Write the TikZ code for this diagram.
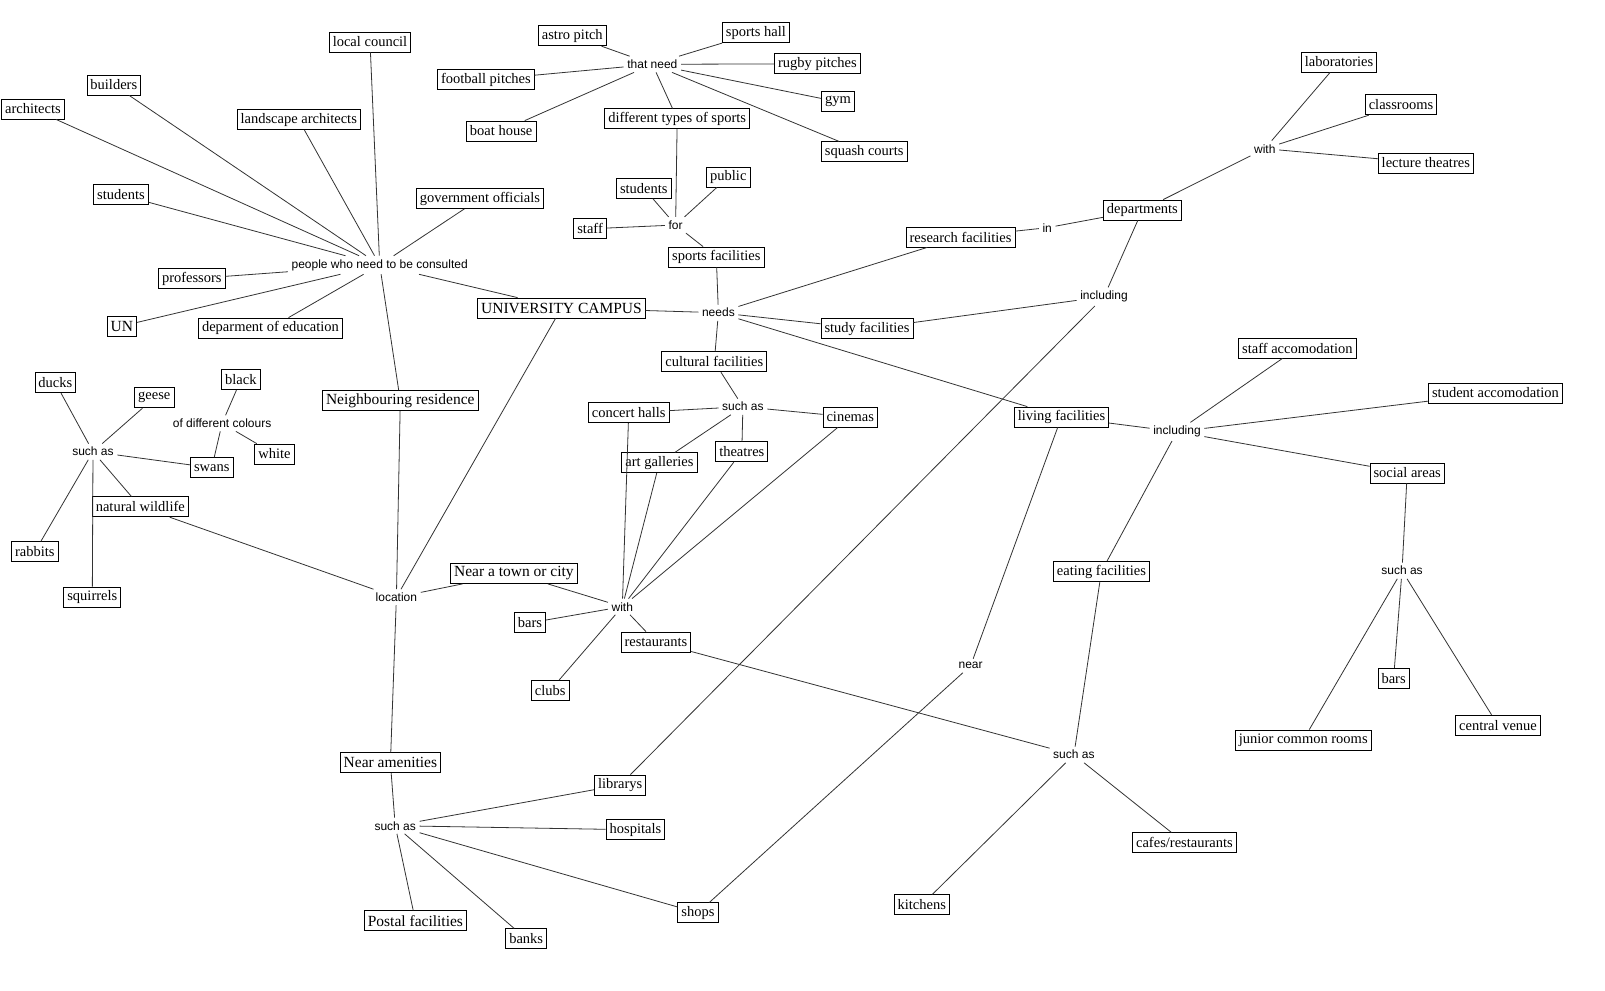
\documentclass[tikz,border=0pt]{standalone}
\usepackage{fontspec}
\setmainfont{Liberation Serif}
\newfontfamily\lsans{Liberation Sans}
\begin{document}
\begin{tikzpicture}[x=1pt,y=-1pt,
  box/.style={draw=black, line width=0.8pt, fill=white, font=\fontsize{14.5}{16}\selectfont, inner xsep=3.5pt, inner ysep=2.5pt, minimum height=20pt},
  bigbox/.style={box, font=\fontsize{15.5}{17}\selectfont},
  lnk/.style={font=\lsans\fontsize{12}{14}\selectfont, inner sep=3.5pt},
  conn/.style={draw=black!80, line width=0.8pt}]
\useasboundingbox[fill=white] (0,0) rectangle (1605,990);
% consulted
\node[box] (lc) at (370,42) {local council};
\node[box] (bld) at (113.8,85) {builders};
\node[box] (arch) at (32.9,109) {architects};
\node[box] (larch) at (298.7,119.8) {landscape architects};
\node[box] (stuL) at (121,194.8) {students};
\node[box] (gov) at (480,198.5) {government officials};
\node[lnk] (ppl) at (379.7,265) {people who need to be consulted};
\node[box] (prof) at (191.8,278.8) {professors};
\node[bigbox] (un) at (121.9,326) {UN};
\node[box] (edu) at (270.5,328) {deparment of education};
\node[bigbox] (campus) at (561.5,308) {UNIVERSITY CAMPUS};
\node[bigbox] (nres) at (400.3,400.8) {Neighbouring residence};
% location
\node[lnk] (loc) at (396.4,597.3) {location};
\node[bigbox] (ntown) at (513.9,573.5) {Near a town or city};
\node[box] (barsL) at (530,622.8) {bars};
\node[lnk] (with2) at (622.3,606.7) {with};
\node[box] (rest) at (655.9,642) {restaurants};
\node[box] (clubs) at (550.2,690.4) {clubs};
% cultural
\node[box] (cult) at (714.3,361.8) {cultural facilities};
\node[lnk] (suchC) at (742.9,406.7) {such as};
\node[box] (conc) at (628.7,412.8) {concert halls};
\node[box] (cin) at (850.3,417) {cinemas};
\node[box] (thea) at (741.8,451.8) {theatres};
\node[box] (art) at (659.4,462.8) {art galleries};
% amenities
\node[bigbox] (amen) at (390.4,762.8) {Near amenities};
\node[lnk] (suchA) at (395.2,825.7) {such as};
\node[box] (lib) at (620.2,785) {librarys};
\node[box] (hosp) at (635.4,829.8) {hospitals};
\node[bigbox] (post) at (415.4,920.7) {Postal facilities};
\node[box] (banks) at (526.2,938.8) {banks};
\node[box] (shops) at (697.9,912.8) {shops};
% wildlife
\node[box] (wild) at (140.3,506.8) {natural wildlife};
\node[lnk] (suchW) at (93,451.7) {such as};
\node[box] (ducks) at (55.4,382.8) {ducks};
\node[box] (geese) at (154.3,397.8) {geese};
\node[box] (black) at (240.9,379.8) {black};
\node[lnk] (diffc) at (222.1,423.3) {of different colours};
\node[box] (white) at (274.5,454) {white};
\node[box] (swans) at (211.8,467.8) {swans};
\node[box] (rabbits) at (34.8,551.8) {rabbits};
\node[box] (squir) at (92.3,597) {squirrels};
% sports
\node[box] (astro) at (572.3,35.8) {astro pitch};
\node[box] (shall) at (755.9,32.8) {sports hall};
\node[lnk] (thatneed) at (652.4,64.3) {that need};
\node[box] (rugby) at (817.4,63.8) {rugby pitches};
\node[box] (gym) at (837.9,101.8) {gym};
\node[box] (football) at (485.9,79.7) {football pitches};
\node[box] (boat) at (501.2,131) {boat house};
\node[box] (dts) at (677.2,118.8) {different types of sports};
\node[box] (squash) at (864.2,151.8) {squash courts};
\node[box] (stuS) at (643.8,188.2) {students};
\node[box] (public) at (728.3,177) {public};
\node[box] (staff) at (590.1,228.8) {staff};
\node[lnk] (tfor) at (675.6,225) {for};
\node[box] (sportsf) at (716.3,257) {sports facilities};
% research / study
\node[box] (research) at (960.5,237) {research facilities};
\node[lnk] (tin) at (1047.2,227.7) {in};
\node[lnk] (needs) at (718.4,312.7) {needs};
\node[box] (study) at (867,328.8) {study facilities};
\node[box] (labs) at (1339,62) {laboratories};
\node[box] (classr) at (1401,104.8) {classrooms};
\node[lnk] (with1) at (1264.8,148.7) {with};
\node[box] (lect) at (1425.8,163) {lecture theatres};
\node[box] (dept) at (1142.4,210) {departments};
\node[lnk] (incl1) at (1104,296.7) {including};
% living
\node[box] (living) at (1061.5,417) {living facilities};
\node[lnk] (incl2) at (1177,431.7) {including};
\node[lnk] (near) at (970.6,665.7) {near};
\node[box] (eating) at (1101.4,571.5) {eating facilities};
\node[lnk] (suchE) at (1073.9,754.7) {such as};
\node[box] (kitchens) at (921.8,904.8) {kitchens};
\node[box] (cafes) at (1184.4,842.8) {cafes/restaurants};
\node[box] (staffacc) at (1297.4,348) {staff accomodation};
\node[box] (studacc) at (1495.5,393) {student accomodation};
\node[box] (social) at (1407.2,473) {social areas};
\node[lnk] (suchS) at (1402,570.7) {such as};
\node[box] (barsR) at (1393.6,678.2) {bars};
\node[box] (jcr) at (1303.2,740) {junior common rooms};
\node[box] (central) at (1498,725.2) {central venue};
% connectors
\foreach \a in {lc,bld,arch,larch,stuL,gov,prof,un,edu,campus,nres}
  \draw[conn] (ppl) -- (\a);
\draw[conn] (nres) -- (loc);
\draw[conn] (campus) -- (loc);
\draw[conn] (campus) -- (needs);
\draw[conn] (loc) -- (wild);
\draw[conn] (loc) -- (ntown);
\draw[conn] (loc) -- (amen);
\draw[conn] (wild) -- (suchW);
\foreach \a in {ducks,geese,swans,rabbits,squir}
  \draw[conn] (suchW) -- (\a);
\draw[conn] (swans) -- (diffc);
\draw[conn] (diffc) -- (black);
\draw[conn] (diffc) -- (white);
\draw[conn] (ntown) -- (with2);
\foreach \a in {barsL,clubs,rest,conc,art,thea,cin}
  \draw[conn] (with2) -- (\a);
\draw[conn] (amen) -- (suchA);
\foreach \a in {lib,hosp,shops,banks,post}
  \draw[conn] (suchA) -- (\a);
\draw[conn] (lib) -- (incl1);
\draw[conn] (incl1) -- (dept);
\draw[conn] (incl1) -- (study);
\draw[conn] (dept) -- (tin);
\draw[conn] (tin) -- (research);
\draw[conn] (dept) -- (with1);
\foreach \a in {labs,classr,lect}
  \draw[conn] (with1) -- (\a);
\foreach \a in {research,study,sportsf,cult,living}
  \draw[conn] (needs) -- (\a);
\draw[conn] (sportsf) -- (tfor);
\foreach \a in {staff,stuS,public,dts}
  \draw[conn] (tfor) -- (\a);
\draw[conn] (dts) -- (thatneed);
\foreach \a in {astro,shall,football,rugby,gym,boat,squash}
  \draw[conn] (thatneed) -- (\a);
\draw[conn] (cult) -- (suchC);
\foreach \a in {conc,cin,thea,art}
  \draw[conn] (suchC) -- (\a);
\draw[conn] (living) -- (incl2);
\draw[conn] (living) -- (near);
\draw[conn] (near) -- (shops);
\foreach \a in {staffacc,studacc,social,eating}
  \draw[conn] (incl2) -- (\a);
\draw[conn] (social) -- (suchS);
\foreach \a in {jcr,barsR,central}
  \draw[conn] (suchS) -- (\a);
\draw[conn] (eating) -- (suchE);
\draw[conn] (suchE) -- (kitchens);
\draw[conn] (suchE) -- (cafes);
\draw[conn] (rest) -- (suchE);
\end{tikzpicture}
\end{document}
